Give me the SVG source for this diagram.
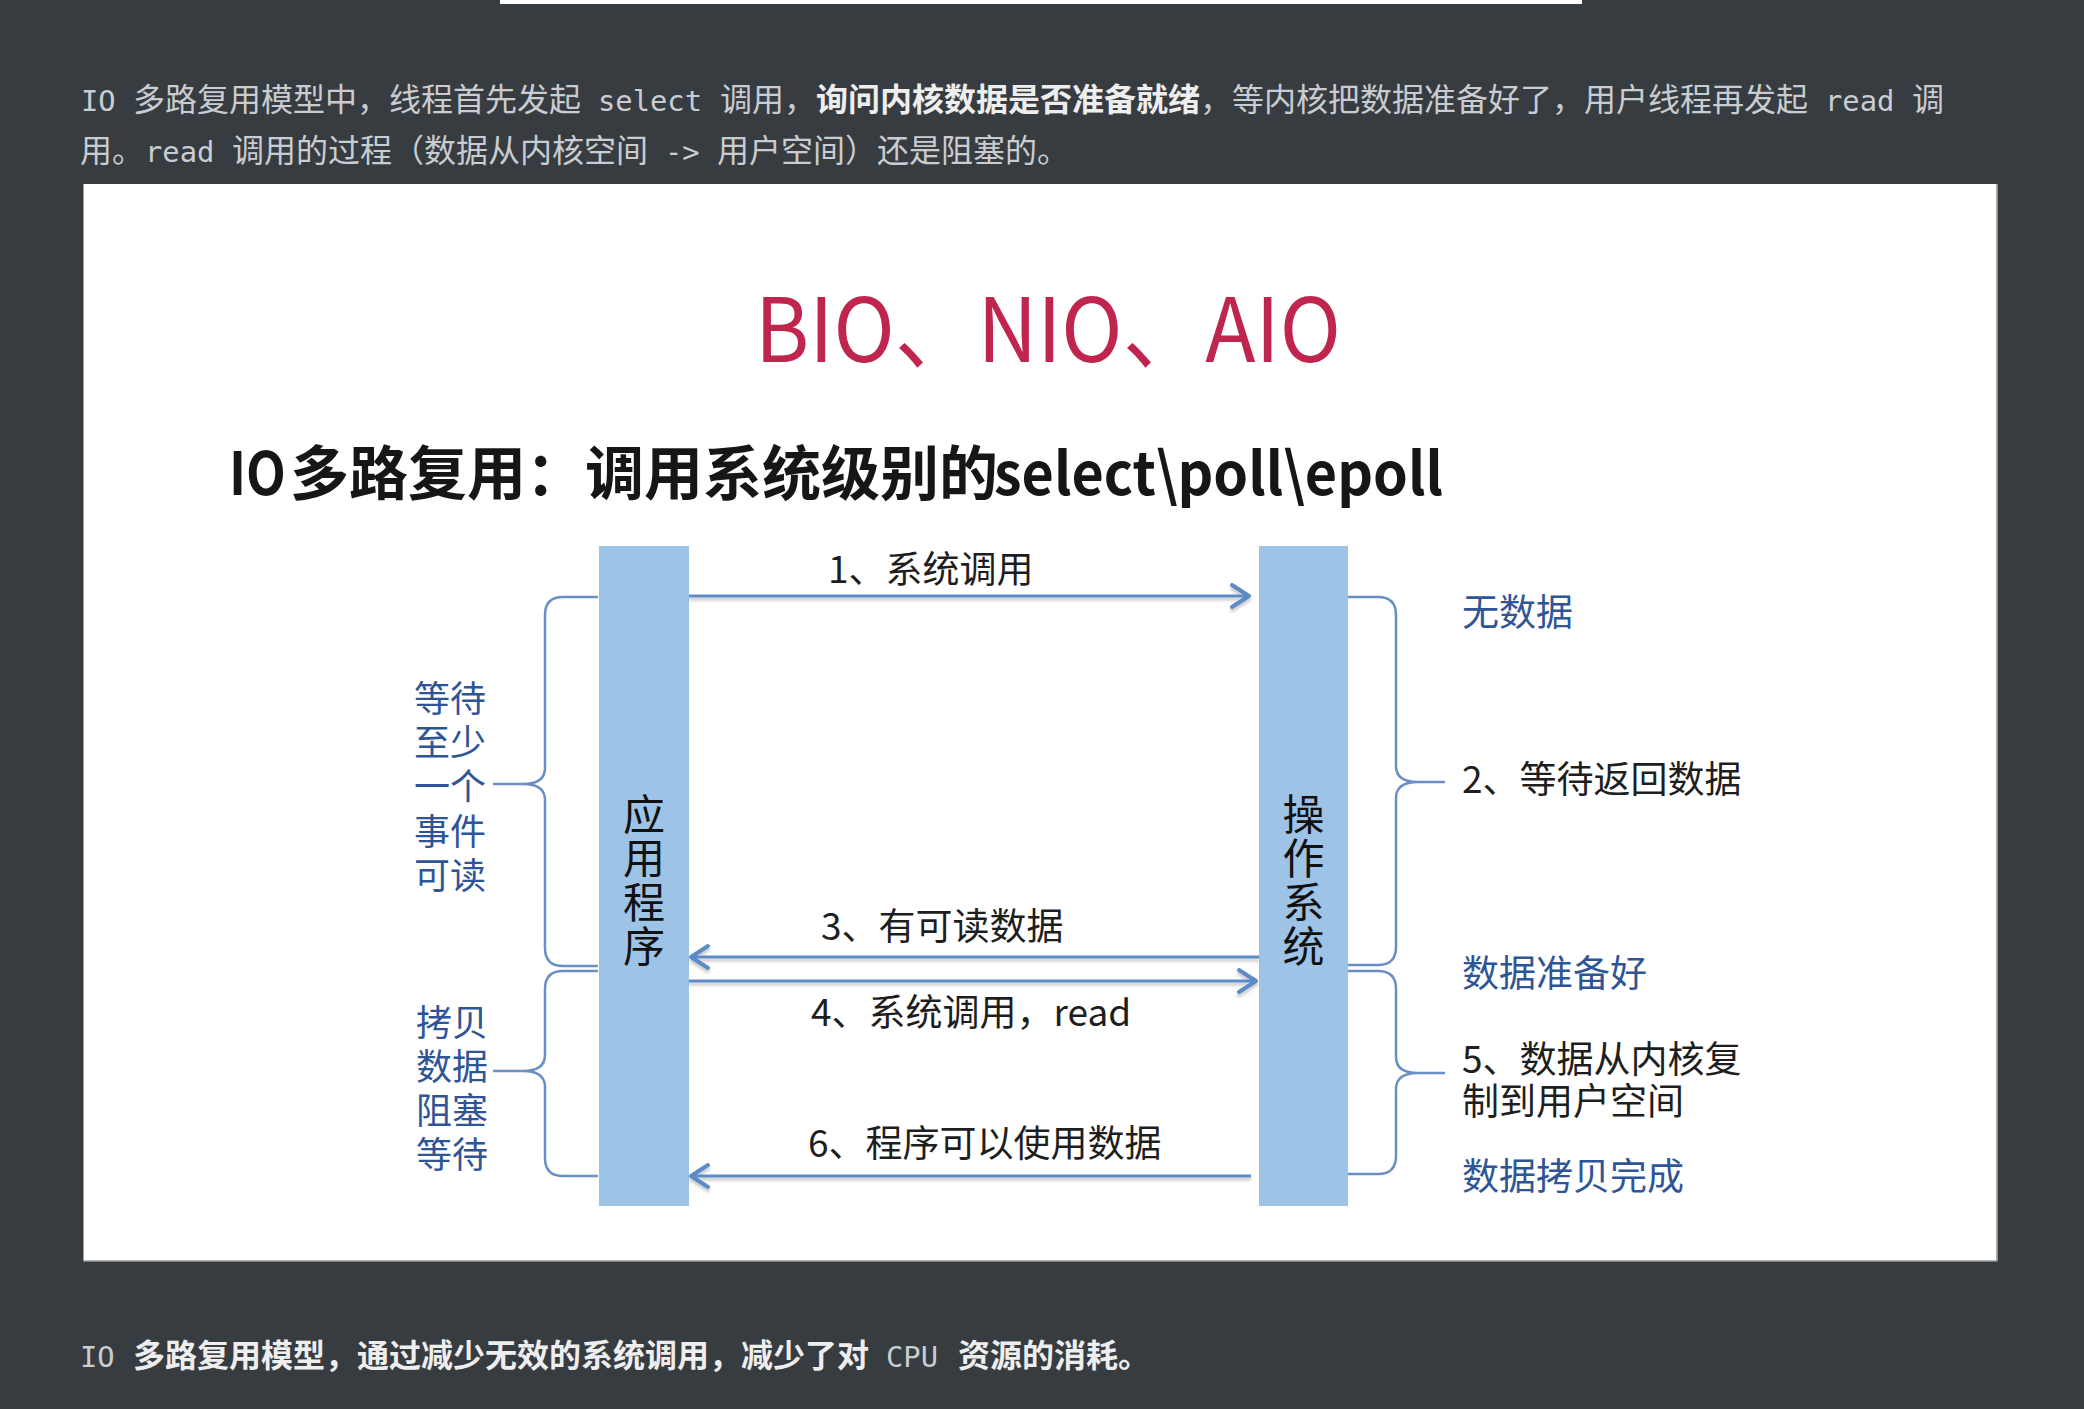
<svg xmlns="http://www.w3.org/2000/svg" width="2084" height="1409" viewBox="0 0 2084 1409">
<defs>
<style>
.p{font-family:"Noto Sans CJK SC","Noto Sans CJK JP",sans-serif;font-size:32px;fill:#c9ccd0}
.m{font-family:"DejaVu Sans Mono","Liberation Mono",monospace;font-size:28.8px;fill:#c9ccd0}
.b{font-weight:bold;fill:#eeeeee}
.bot{font-family:"Noto Sans CJK SC","Noto Sans CJK JP",sans-serif;font-size:32px;font-weight:bold;fill:#eeeeee}
.lbl{font-family:"Noto Sans CJK SC","Noto Sans CJK JP",sans-serif;font-size:37px;fill:#1e1e1e}
.side{font-family:"Noto Sans CJK SC","Noto Sans CJK JP",sans-serif;font-size:36px;fill:#2f5597}
.blue{fill:#2f5597}
.vert{font-family:"Noto Sans CJK SC","Noto Sans CJK JP",sans-serif;font-size:42px;fill:#111111;writing-mode:vertical-rl;letter-spacing:2px}
.bar{fill:#9dc3e6}
.conn{stroke:#5b8bc6;stroke-width:3;fill:none}
.brace{stroke:#6a8fc4;stroke-width:2.5;fill:none}
</style>
<marker id="arr" viewBox="0 0 24 28" refX="21" refY="14" markerWidth="24" markerHeight="28" orient="auto" markerUnits="userSpaceOnUse">
<path d="M4,3 L21,14 L4,25" fill="none" stroke="#5b8bc6" stroke-width="4" stroke-linecap="round" stroke-linejoin="round"/>
</marker>
<filter id="sh" x="-5%" y="-50%" width="110%" height="200%">
<feDropShadow dx="0" dy="3" stdDeviation="1.8" flood-color="#000000" flood-opacity="0.22"/>
</filter>
</defs>

<rect x="0" y="0" width="2084" height="1409" fill="#373c41"/>
<rect x="500" y="0" width="1082" height="4" fill="#ffffff"/>

<g id="intro">
<text class="p" y="111"><tspan class="m" x="81">IO</tspan><tspan x="133">多路复用模型中，线程首先发起</tspan><tspan class="m" x="598">select</tspan><tspan x="720">调用，</tspan><tspan class="b" x="816">询问内核数据是否准备就绪</tspan><tspan x="1200">，等内核把数据准备好了，用户线程再发起</tspan><tspan class="m" x="1825">read</tspan><tspan x="1912">调</tspan></text>
<text class="p" y="162"><tspan x="80">用。</tspan><tspan class="m" x="145">read</tspan><tspan x="232">调用的过程（数据从内核空间</tspan><tspan class="m" x="665">-&gt;</tspan><tspan x="717">用户空间）还是阻塞的。</tspan></text>
</g>

<rect x="83.5" y="184" width="1913" height="1077" fill="#ffffff"/>
<line x1="83.5" y1="1261" x2="1997" y2="1261" stroke="#9a9a9a" stroke-width="1.5"/>
<line x1="1997" y1="184" x2="1997" y2="1261" stroke="#b0b0b0" stroke-width="1.5"/>

<g id="title">
<text x="755" y="362" font-family="Noto Sans CJK SC, sans-serif" font-size="88" fill="#c0254e" textLength="586" lengthAdjust="spacingAndGlyphs">BIO、NIO、AIO</text>
</g>
<g id="subtitle">
<text y="495" font-family="Noto Sans CJK SC, sans-serif" font-size="59" font-weight="bold" fill="#161616"><tspan x="229" textLength="57" lengthAdjust="spacingAndGlyphs">IO</tspan><tspan x="290">多路复用：调用系统级别的</tspan><tspan x="994" textLength="449" lengthAdjust="spacingAndGlyphs">select\poll\epoll</tspan></text>
</g>

<g id="app">
<rect class="bar" x="599" y="546" width="90" height="660"/>
<text class="vert" x="644" y="793">应用程序</text>
</g>
<g id="os">
<rect class="bar" x="1259" y="546" width="89" height="660"/>
<text class="vert" x="1303.5" y="793">操作系统</text>
</g>

<g id="connectors" filter="url(#sh)">
<line class="conn" x1="689" y1="596" x2="1249" y2="596" marker-end="url(#arr)"/>
<line class="conn" x1="1259" y1="957" x2="691" y2="957" marker-end="url(#arr)"/>
<line class="conn" x1="689" y1="981" x2="1256" y2="981" marker-end="url(#arr)"/>
<line class="conn" x1="1251" y1="1176" x2="691" y2="1176" marker-end="url(#arr)"/>
</g>

<g id="braces">
<path class="brace" d="M598,597 L563,597 Q545,597 545,615 L545,768 Q545,784 523,784 L493,784 M523,784 Q545,784 545,800 L545,948 Q545,966 563,966 L598,966"/>
<path class="brace" d="M598,971 L563,971 Q545,971 545,989 L545,1055 Q545,1071 523,1071 L493,1071 M523,1071 Q545,1071 545,1087 L545,1158 Q545,1176 563,1176 L598,1176"/>
<path class="brace" d="M1348,597 L1378,597 Q1396,597 1396,615 L1396,766 Q1396,782 1418,782 L1445,782 M1418,782 Q1396,782 1396,798 L1396,947 Q1396,965 1378,965 L1348,965"/>
<path class="brace" d="M1348,971 L1378,971 Q1396,971 1396,989 L1396,1057 Q1396,1073 1418,1073 L1445,1073 M1418,1073 Q1396,1073 1396,1089 L1396,1156 Q1396,1174 1378,1174 L1348,1174"/>
</g>

<g id="arrow-labels">
<text class="lbl" x="828" y="583">1、系统调用</text>
<text class="lbl" x="821" y="940">3、有可读数据</text>
<text class="lbl" x="811" y="1026">4、系统调用，read</text>
<text class="lbl" x="808" y="1157">6、程序可以使用数据</text>
</g>

<g id="left-labels">
<text class="side"><tspan x="414" y="712">等待</tspan><tspan x="414" y="756">至少</tspan><tspan x="414" y="800">一个</tspan><tspan x="414" y="845">事件</tspan><tspan x="414" y="889">可读</tspan></text>
<text class="side"><tspan x="416" y="1036">拷贝</tspan><tspan x="416" y="1080">数据</tspan><tspan x="416" y="1124">阻塞</tspan><tspan x="416" y="1168">等待</tspan></text>
</g>

<g id="right-labels">
<text class="lbl blue" x="1462" y="626">无数据</text>
<text class="lbl" x="1462" y="793">2、等待返回数据</text>
<text class="lbl blue" x="1462" y="987">数据准备好</text>
<text class="lbl" x="1462" y="1073">5、数据从内核复</text>
<text class="lbl" x="1462" y="1115">制到用户空间</text>
<text class="lbl blue" x="1462" y="1190">数据拷贝完成</text>
</g>

<g id="summary">
<text class="bot" y="1367"><tspan class="m" x="80" style="font-weight:normal">IO</tspan><tspan x="133">多路复用模型，通过减少无效的系统调用，减少了对</tspan><tspan class="m" x="886" style="font-weight:normal">CPU</tspan><tspan x="958">资源的消耗。</tspan></text>
</g>
</svg>
